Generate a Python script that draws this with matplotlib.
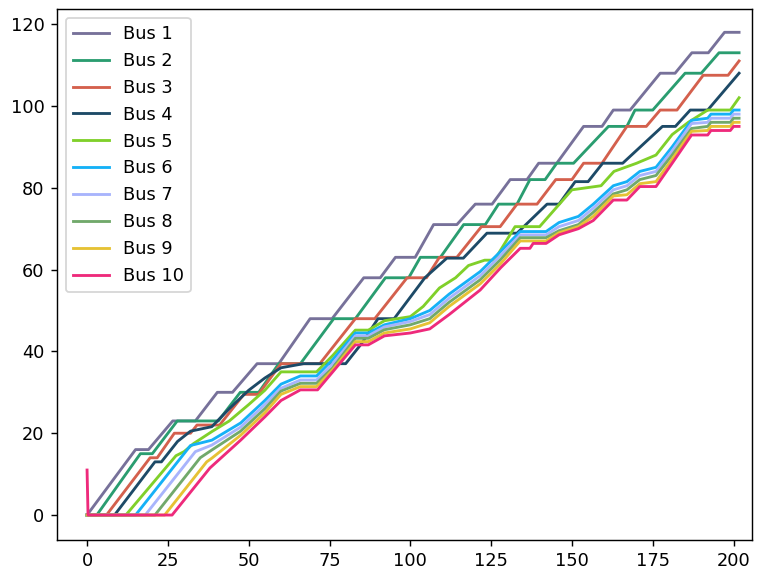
import matplotlib
matplotlib.use('Agg')
import matplotlib.pyplot as plt

# breakpoints (time, value) for each bus
bus1_x = [0, 15, 19, 26.5, 33.5, 40.3, 45, 52.6, 59.3, 69, 75.8, 85.6, 90.7, 95.4, 101.5, 107.2, 114.4, 120.1, 125.3,
          130.9, 136.1, 139.7, 145.3, 153.6, 159.3, 162.8, 168, 177.3, 181.9, 187.1, 192.2, 197.2, 201.7]
bus1_y = [0, 16, 16, 23, 23, 30, 30, 37, 37, 48, 48, 58, 58, 63, 63, 71, 71, 76, 76,
          82, 82, 86, 86, 95, 95, 99, 99, 108, 108, 113, 113, 118, 118]

bus2_x = [0, 3, 16.5, 20.2, 27.9, 40.6, 47.4, 53.1, 59.3, 66, 76.3, 83, 92.3, 99.5, 103.1, 109.3, 116.5, 123.2,
          127.3, 133, 137, 141.7, 145.3, 150.5, 161.3, 167, 169.5, 175, 185, 190, 195.5, 201.7]
bus2_y = [0, 0, 15, 15, 23, 23, 30, 30, 37, 37, 48, 48, 58, 58, 63, 63, 71, 71,
          76, 76, 82, 82, 86, 86, 95, 95, 99, 99, 108, 108, 113, 113]

bus3_x = [0, 6, 19.5, 21.7, 27, 32, 34, 41, 48.5, 53, 60, 72, 83, 89, 99, 105, 109, 114.4, 122, 127.8,
          133, 139.2, 145, 150, 153.6, 159.3, 167, 173, 177.3, 182.5, 190.6, 198.3, 201.7]
bus3_y = [0, 0, 14, 14, 20, 20, 22, 22, 29.5, 29.5, 37, 37, 48, 48, 58, 58, 63, 63, 70.5, 70.5,
          76, 76, 82, 82, 86, 86, 95, 95, 99, 99, 107.5, 107.5, 111]

bus4_x = [0, 8.5, 21, 23, 28, 32, 38.6, 44, 50, 55, 60, 67, 80, 85, 90, 95, 104.5, 111.3, 116.4, 123.7, 133,
          142.3, 146, 151, 155, 159.5, 165.7, 178, 182, 186.6, 192, 201.7]
bus4_y = [0, 0, 13, 13, 18, 20.5, 21.6, 26, 30.5, 33.5, 36, 37, 37, 42, 48, 48, 58, 62.8, 62.8, 68.9, 68.9,
          76, 76, 81.5, 81.5, 86, 86, 95, 95, 99, 99, 108]

bus5_x = [0, 12, 27.5, 30, 33, 38.6, 44, 50, 55, 60, 71, 76, 83, 87, 92, 100, 104, 109, 114, 118, 123, 126,
          132.4, 140, 150, 159, 163, 170, 176, 181, 186, 192, 199, 201.7]
bus5_y = [0, 0, 14.5, 15.5, 17.5, 20.4, 23, 27, 30.5, 35, 35, 39, 45.2, 45.2, 47.5, 48.5, 51, 55.5, 58, 61, 62.3, 62.3,
          70.5, 70.5, 79.5, 80.5, 84, 86, 88, 93, 96, 99, 99, 102]

bus6_x = [0, 15, 32, 38.6, 47.5, 55, 60, 66, 71, 76, 83, 87, 92, 100, 106, 112, 121.6, 128, 134, 142, 146, 152,
          156.6, 162.8, 167, 171, 176, 181, 187, 192, 193, 199, 200, 201.7]
bus6_y = [0, 0, 17, 18.3, 22.5, 28, 32, 34, 34, 38, 44.5, 44.5, 46.5, 48, 50, 54, 59.5, 64.5, 69.3, 69.3, 71.5, 73,
          76, 80.5, 81.5, 84, 85, 90, 96.5, 97, 98, 98, 99, 99]

bus7_x = [0, 18, 33.5, 38.6, 47.5, 55, 60, 66, 71, 76, 83, 87, 92, 100, 106, 112, 121.6, 128, 134, 142, 146, 152,
          156.6, 162.8, 167, 171, 176, 181, 187, 192, 193, 199, 200, 201.7]
bus7_y = [0, 0, 15.5, 17.1, 21.5, 27, 31, 33, 33, 37, 43.8, 43.8, 46, 47.3, 49, 53, 58.5, 63.5, 68.5, 68.5, 70.5, 72,
          75, 79.5, 80.5, 83, 84, 89, 95.7, 96, 97, 97, 98, 98]

bus8_x = [0, 21, 35, 38.6, 47.5, 55, 60, 66, 71, 76, 83, 87, 92, 100, 106, 112, 121.6, 128, 134, 142, 146, 152,
          156.6, 162.8, 167, 171, 176, 181, 187, 192, 193, 199, 200, 201.7]
bus8_y = [0, 0, 14, 15.9, 20.5, 26, 30.3, 32.2, 32.2, 36, 43.2, 43.2, 45.3, 46.5, 48, 52, 57.5, 62.5, 67.8, 67.8, 69.5, 71,
          74, 78.5, 79.5, 82, 83, 88, 94.5, 95, 96, 96, 97, 97]

bus9_x = [0, 24, 37, 38.6, 47.5, 55, 60, 66, 71, 76, 83, 87, 92, 100, 106, 112, 121.6, 128, 134, 142, 146, 152,
          156.6, 162.8, 167, 171, 176, 181, 187, 192, 193, 199, 200, 201.7]
bus9_y = [0, 0, 13, 13.9, 19.5, 25, 29.5, 31.4, 31.4, 35.5, 42.4, 42.4, 44.5, 45.5, 47, 51, 56.5, 61.5, 67, 67, 69, 70.5,
          73, 78, 78.3, 81, 81.5, 87, 93.8, 94, 95, 95, 96, 96]

bus10_x = [0, 0.3, 26.3, 38, 47.5, 55, 60, 66, 71.3, 76, 83, 87, 92, 100, 106, 112, 121.6, 128, 134, 137, 138, 142,
           146, 152, 156.6, 162.8, 167, 171, 176, 181, 187, 192, 193, 199, 200, 201.7]
bus10_y = [11, 0, 0, 11.5, 18.3, 24, 28, 30.6, 30.6, 35, 41.6, 41.6, 43.8, 44.5, 45.5, 49, 55, 60.5, 65.2, 65.2, 66.4, 66.4,
           68.5, 70, 72, 77, 77, 80.3, 80.3, 86, 92.9, 92.9, 94, 94, 95, 95]

labels = ['Bus 1', 'Bus 2', 'Bus 3', 'Bus 4', 'Bus 5', 'Bus 6', 'Bus 7', 'Bus 8', 'Bus 9', 'Bus 10']
colors = ['#77719a', '#2a9d70', '#d4604d', '#1d4a67', '#80d02a', '#15b1f7', '#a8b4fc', '#71a96b', '#e6c234', '#ee2a7b']

series = [(bus1_x, bus1_y), (bus2_x, bus2_y), (bus3_x, bus3_y), (bus4_x, bus4_y), (bus5_x, bus5_y),
          (bus6_x, bus6_y), (bus7_x, bus7_y), (bus8_x, bus8_y), (bus9_x, bus9_y), (bus10_x, bus10_y)]

DPI = 128
fig = plt.figure(figsize=(760 / DPI, 569 / DPI), dpi=DPI)
ax = fig.add_axes([57 / 760, 1 - 540 / 569, (752 - 57) / 760, (540 - 9) / 569])

for (xs, ys), lab, col in zip(series, labels, colors):
    ax.plot(xs, ys, color=col, linewidth=1.6, label=lab)

ax.set_xlim(-9.3, 205.7)
ax.set_ylim(-6.1, 123.7)
ax.set_xticks([0, 25, 50, 75, 100, 125, 150, 175, 200])
ax.set_yticks([0, 20, 40, 60, 80, 100, 120])
ax.legend(loc='upper left')

fig.savefig('out.png', dpi=DPI)
